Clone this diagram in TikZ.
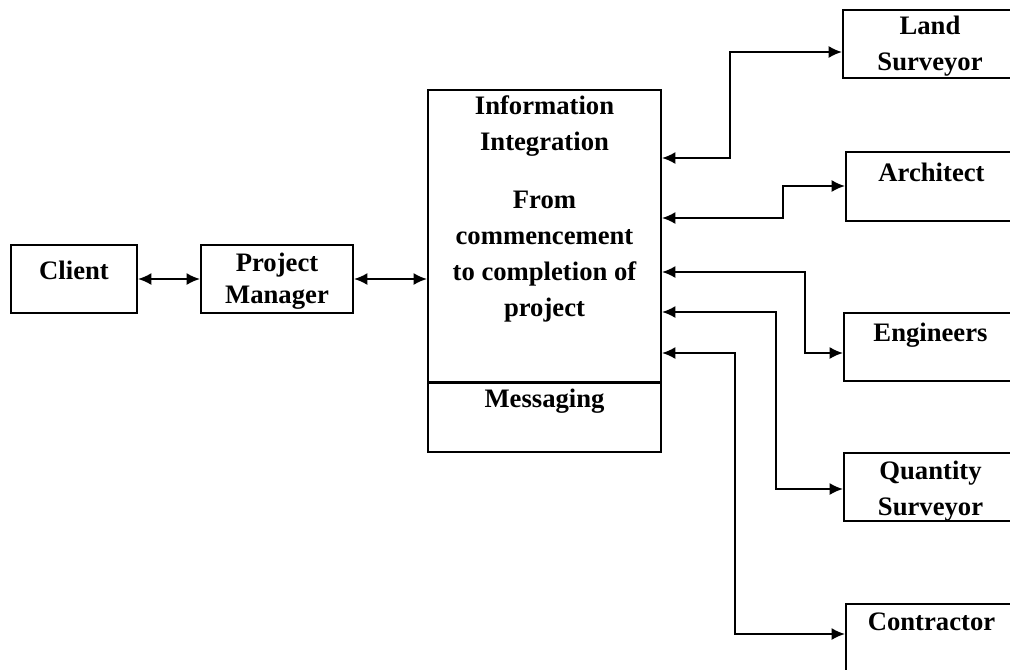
\documentclass[tikz,border=0pt]{standalone}
\usepackage{fontspec}
\setmainfont{Liberation Serif}
\usetikzlibrary{arrows.meta}
\tikzset{part/.style={draw, line width=1.5pt, inner sep=0pt, anchor=north west, font=\fontsize{20}{27}\selectfont\bfseries}}
\tikzset{arr/.style={draw, line width=1.5pt, >={Latex[length=10pt,width=9pt]}, <->}}
\newcommand{\partbox}[4]{\parbox[c][#2][t]{#1}{\centering\vspace*{#3}#4\par}}

\begin{document}
\begin{tikzpicture}[x=0.75pt, y=-0.75pt]
	\useasboundingbox (0,0) rectangle (1010,669);
	\clip (0,0) rectangle (1010,669);
	%
	\node[part] (client) at (10,244) {\partbox{94.5pt}{51pt}{12pt}{Client}};
	\node[part] (pm) at (200,244) {\partbox{114pt}{51pt}{6pt}{Project\\[-3pt]Manager}};
	\node[part] (info) at (427,89) {\partbox{174.75pt}{219pt}{4.5pt}{Information\\Integration\\[16pt]From\\commencement\\to completion of\\project}};
	\node[part, anchor=north] (msg) at ([yshift=0.75pt]info.south) {\partbox{174.75pt}{51.75pt}{4.5pt}{Messaging}};
	%
	\node[part] (land) at (842,9) {\partbox{130.5pt}{51pt}{4.5pt}{Land\\Surveyor}};
	\node[part] (arch) at (845,151) {\partbox{128.25pt}{51.75pt}{8.25pt}{Architect}};
	\node[part] (eng) at (843,312) {\partbox{129.75pt}{51pt}{7.5pt}{Engineers}};
	\node[part] (qs) at (843,452) {\partbox{129.75pt}{51pt}{6pt}{Quantity\\Surveyor}};
	\node[part] (contr) at (845,603) {\partbox{128.25pt}{75pt}{6.75pt}{Contractor}};
	%
	\draw[arr] (client.east) -- (pm.west);
	\draw[arr] (pm.east) -- (pm.east -| info.west);
	%
	\draw[arr] (info.east |- 0,158) -- (730,158) |- (land.west |- 0,52);
	\draw[arr] (info.east |- 0,218) -- (783,218) |- (arch.west |- 0,186);
	\draw[arr] (info.east |- 0,272) -- (805,272) |- (eng.west |- 0,353);
	\draw[arr] (info.east |- 0,312) -- (776,312) |- (qs.west |- 0,489);
	\draw[arr] (info.east |- 0,353) -- (735,353) |- (contr.west |- 0,634);
\end{tikzpicture}
\end{document}
